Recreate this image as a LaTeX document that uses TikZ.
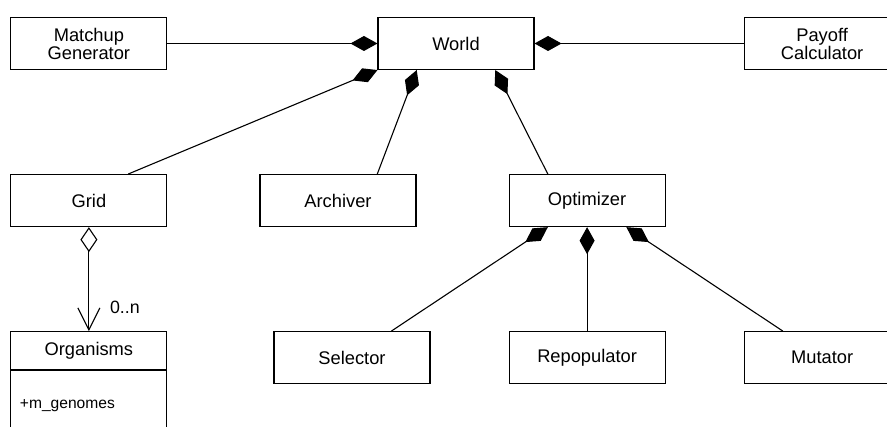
\documentclass[tikz,border=0pt]{standalone}
\usepackage{fontspec}
\setmainfont{Liberation Sans}
\usetikzlibrary{arrows.meta,calc,positioning}

\begin{document}
\begin{tikzpicture}[
  node distance=104pt and 92pt,
  class/.style={rectangle, draw, line width=1.1pt, minimum width=156pt, minimum height=52pt, inner sep=0pt, align=center, font=\fontsize{18.3}{18}\selectfont},
  attr/.style={rectangle, draw, line width=1.1pt, text width=138pt, minimum height=70pt, inner xsep=9pt, inner ysep=0pt, align=left, font=\fontsize{15.6}{16}\selectfont},
  mult/.style={inner sep=0pt, font=\fontsize{17.8}{18}\selectfont},
  compose/.style={{Diamond[length=27pt, width=15pt]}-, line width=1.1pt},
  aggregate/.style={{Diamond[open, length=25pt, width=17pt]}-{Straight Barb[length=22pt, width=22pt]}, line width=1.1pt}
]
\useasboundingbox (0pt,0pt) rectangle (887pt,-427pt);

% Top row
\node[class] (world) at (456pt,-43.5pt) {World};
\node[class, left=210pt of world] (matchup) {Matchup\\Generator};
\node[class, right=209pt of world] (payoff) {Payoff\\Calculator};

% Middle row
\node[class, below=of matchup] (grid) {Grid};
\node[class, right=of grid] (archiver) {Archiver};
\node[class, right=of archiver] (optimizer) {Optimizer};

% Bottom row
\node[class, minimum height=38pt, below=of grid] (organisms) {Organisms};
\node[attr, below=0pt of organisms] (genomes) {+m\_genomes};
\node[class, below=of optimizer] (repopulator) {Repopulator};
\node[class, left=78pt of repopulator] (selector) {Selector};
\node[class, right=78pt of repopulator] (mutator) {Mutator};

% Compositions of World
\draw[compose] (world) -- (matchup);
\draw[compose] (world) -- (payoff);
\draw[compose] (world.south west) -- ($(grid.north west)!0.75!(grid.north east)$);
\draw[compose] ($(world.south west)!0.25!(world.south east)$) -- ($(archiver.north west)!0.75!(archiver.north east)$);
\draw[compose] ($(world.south west)!0.75!(world.south east)$) -- ($(optimizer.north west)!0.25!(optimizer.north east)$);

% Compositions of Optimizer
\draw[compose] ($(optimizer.south west)!0.25!(optimizer.south east)$) -- ($(selector.north west)!0.75!(selector.north east)$);
\draw[compose] (optimizer) -- (repopulator);
\draw[compose] ($(optimizer.south west)!0.75!(optimizer.south east)$) -- ($(mutator.north west)!0.25!(mutator.north east)$);

% Aggregation
\draw[aggregate] (grid) -- (organisms);
\node[mult, anchor=base west] (multiplicity) at ([shift={(21pt,18pt)}]organisms.north) {0..n};

\end{tikzpicture}
\end{document}
